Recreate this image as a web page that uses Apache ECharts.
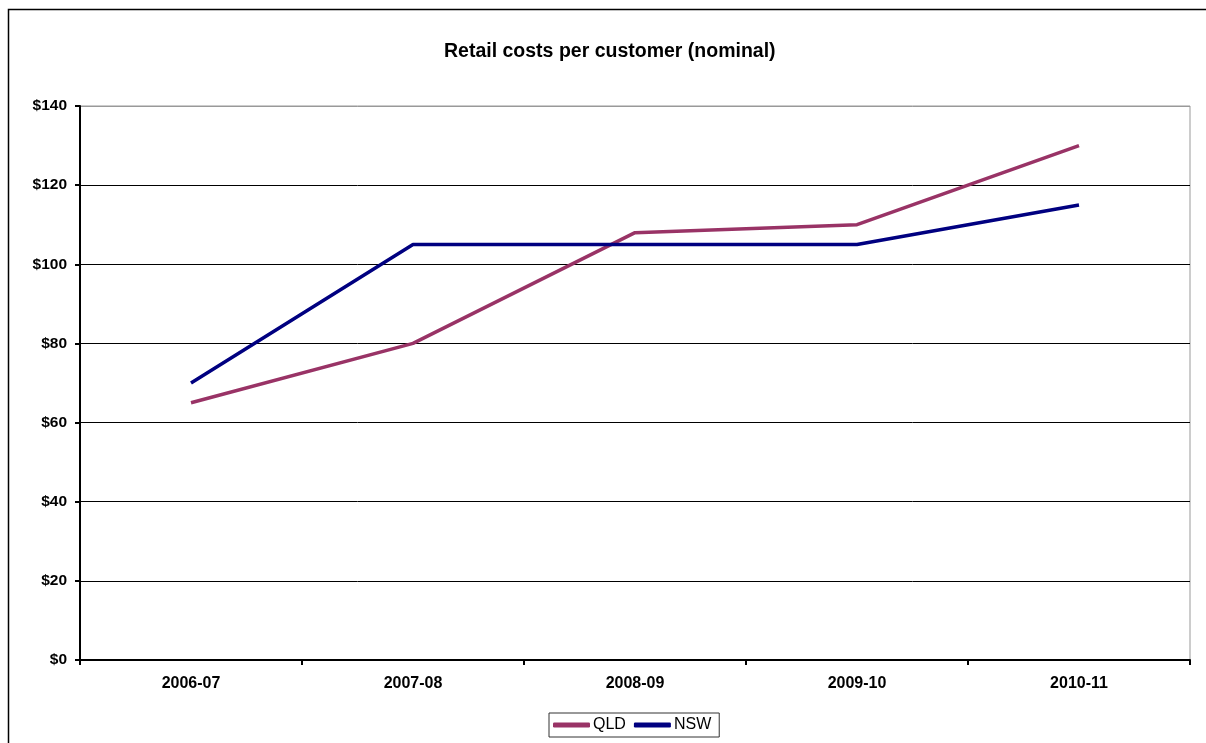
<!DOCTYPE html>
<html>
<head>
<meta charset="utf-8">
<script src="https://cdn.jsdelivr.net/npm/echarts@6/dist/echarts.min.js"></script>
<style>
  html, body { margin: 0; padding: 0; background: #fff; }
  #chart { width: 1206px; height: 743px; }
</style>
</head>
<body>
<div id="chart"></div>
<script>
// Financial years on the category axis
const years = ['2006-07', '2007-08', '2008-09', '2009-10', '2010-11'];
// Retail cost per customer, nominal dollars
const qld = [65, 80, 108, 110, 130];
const nsw = [70, 105, 105, 105, 115];

const FONT = '"Liberation Sans", Arial, sans-serif';

const chart = echarts.init(document.getElementById('chart'), null, { renderer: 'canvas' });
chart.setOption({
  animation: false,
  backgroundColor: '#fff',
  graphic: [{
    type: 'rect',
    shape: { x: 8.5, y: 9.5, width: 1220, height: 760 },
    style: { fill: 'none', stroke: '#000', lineWidth: 1.5 },
    silent: true,
    z: -10
  }],
  title: {
    text: 'Retail costs per customer (nominal)',
    left: 444,
    top: 42,
    padding: 0,
    textStyle: { fontFamily: FONT, fontSize: 19.5, fontWeight: 'bold', color: '#000' }
  },
  legend: {
    bottom: 6,
    left: 549,
    icon: 'roundRect',
    itemWidth: 37,
    itemHeight: 5,
    itemGap: 8,
    padding: [4, 8, 4, 4],
    borderColor: '#333',
    borderWidth: 1,
    textStyle: { fontFamily: FONT, fontSize: 16, color: '#000', padding: [0, 0, 0, -2] },
    data: ['QLD', 'NSW']
  },
  grid: {
    left: 80, right: 16, top: 106, bottom: 83,
    show: true, borderColor: '#999', borderWidth: 1
  },
  xAxis: {
    type: 'category',
    data: years,
    boundaryGap: true,
    axisLine: { lineStyle: { color: '#000', width: 2 } },
    axisTick: { show: true, length: 5, lineStyle: { color: '#000', width: 2 } },
    axisLabel: { fontFamily: FONT, fontSize: 16, fontWeight: 'bold', color: '#000', margin: 16 },
    splitLine: { show: false }
  },
  yAxis: {
    type: 'value',
    min: 0, max: 140, interval: 20,
    axisLine: { show: true, lineStyle: { color: '#000', width: 2 } },
    axisTick: { show: true, length: 5, lineStyle: { color: '#000', width: 2 } },
    axisLabel: { fontFamily: FONT, fontSize: 15.5, fontWeight: 'bold', color: '#000', margin: 13,
                 formatter: v => '$' + v },
    // black gridlines, with the top edge left in the plot border's grey
    splitLine: { lineStyle: { color: ['#000', '#000', '#000', '#000', '#000', '#000', '#000', '#999'], width: 1 } }
  },
  series: [
    { name: 'QLD', type: 'line', data: qld, symbol: 'none',
      lineStyle: { color: '#993366', width: 3.5 }, itemStyle: { color: '#993366' } },
    { name: 'NSW', type: 'line', data: nsw, symbol: 'none',
      lineStyle: { color: '#000080', width: 3.5 }, itemStyle: { color: '#000080' } }
  ]
});
</script>
</body>
</html>
